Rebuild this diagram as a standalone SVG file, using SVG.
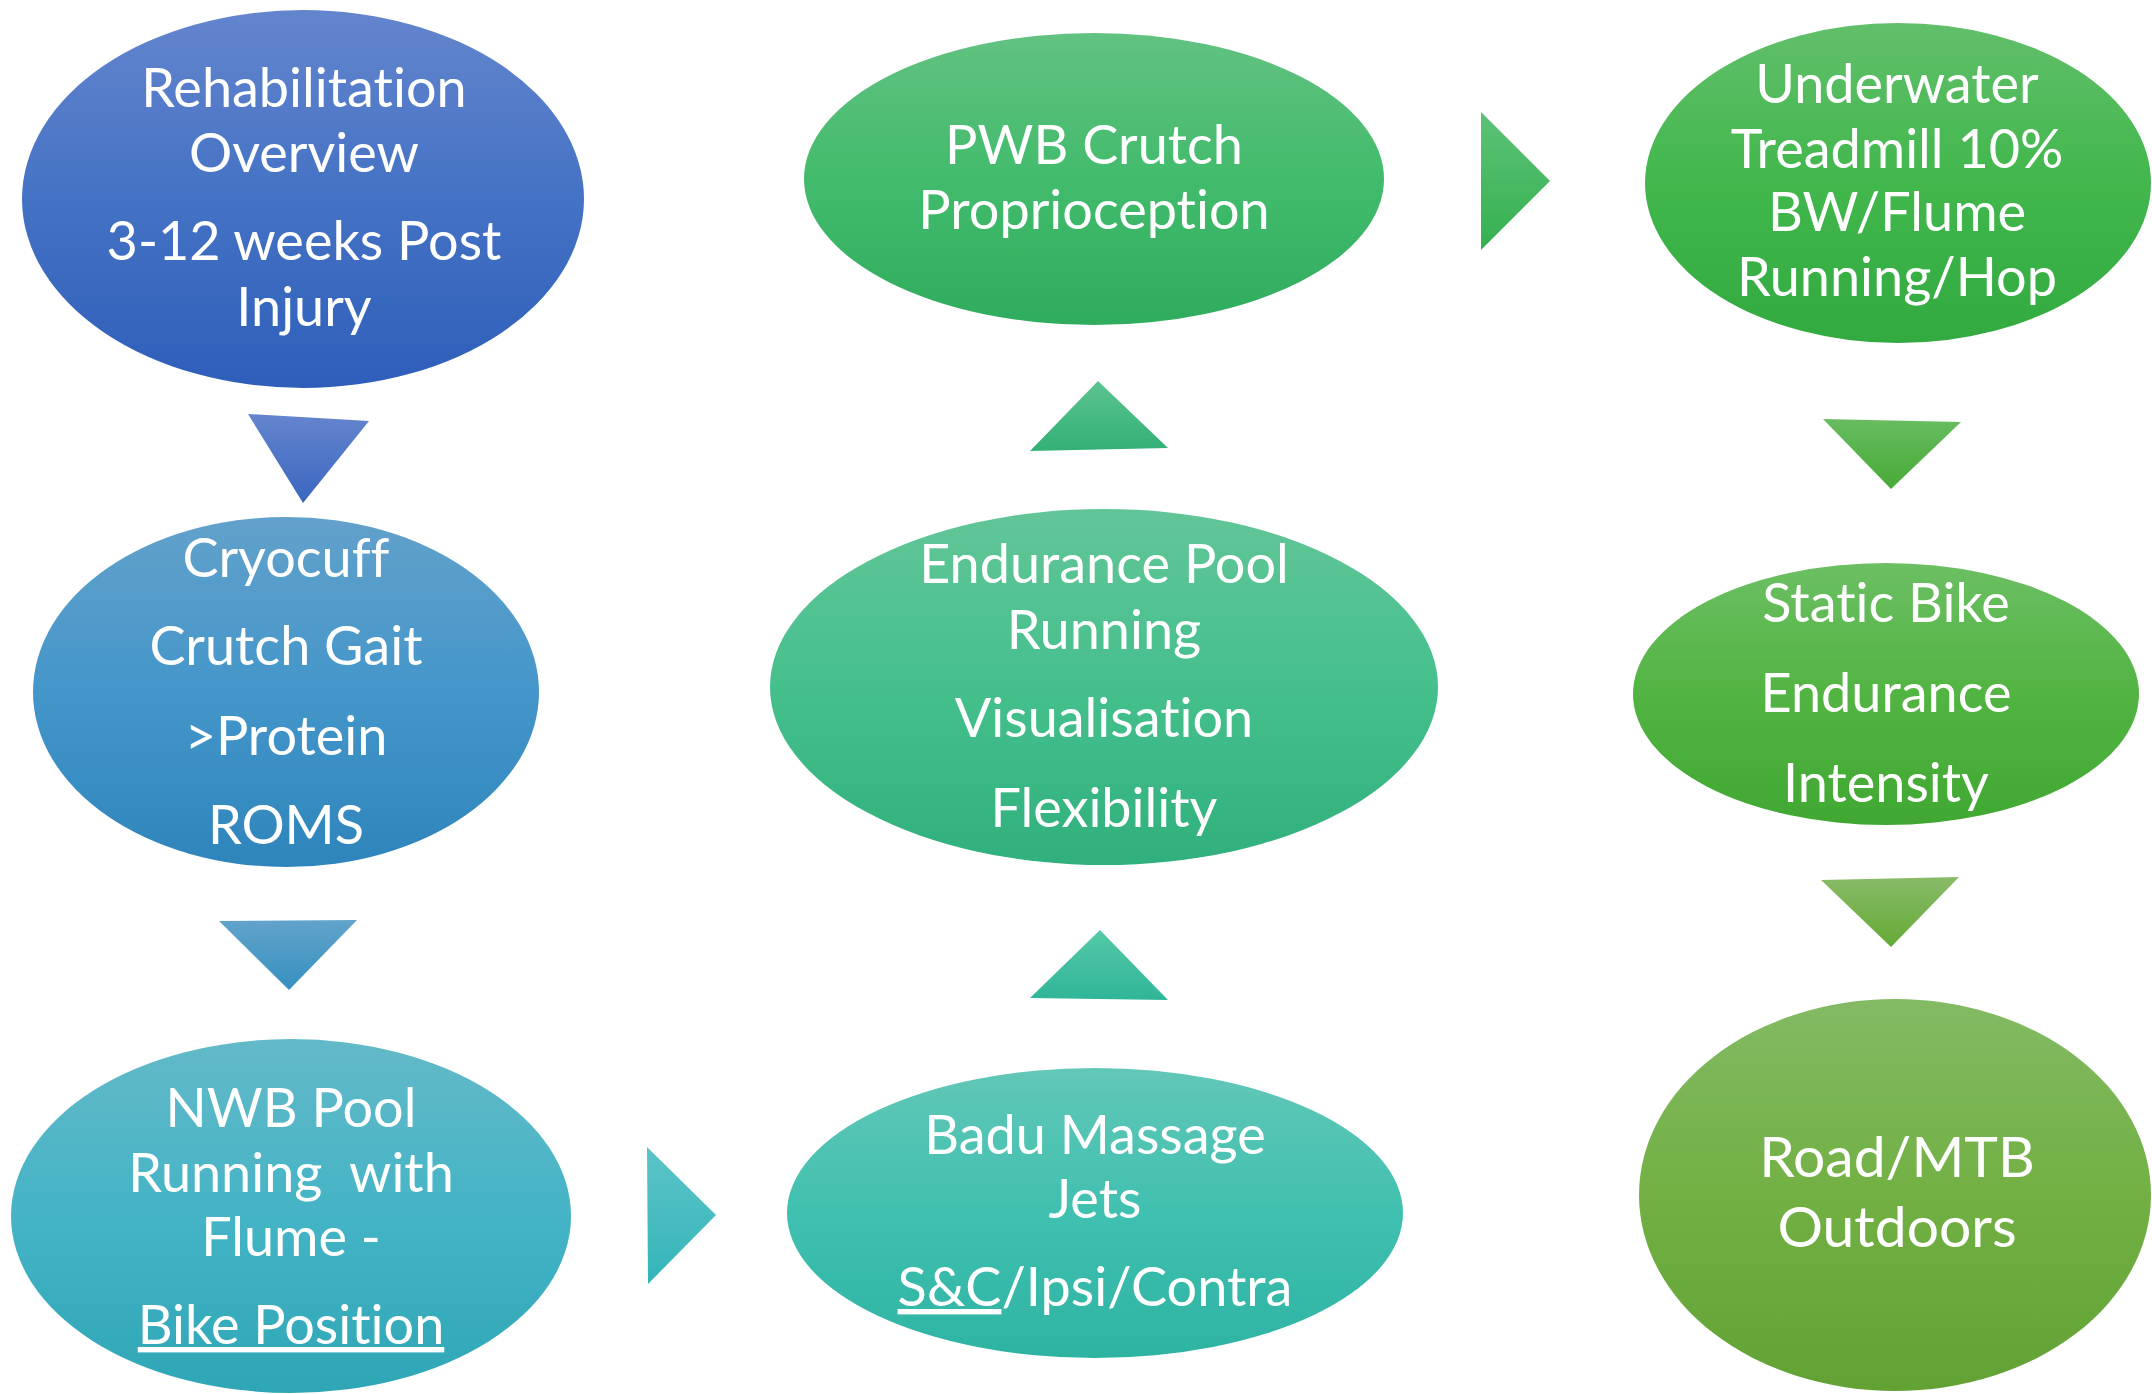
<svg xmlns="http://www.w3.org/2000/svg" width="2152" height="1394" viewBox="0 0 2152 1394">
<style>
  .t { font-family: Lato, "Liberation Sans", sans-serif; font-size: 54px; fill: #ffffff; text-anchor: middle; font-variant-ligatures: none; font-feature-settings: "liga" 0, "dlig" 0; }
  .big { font-size: 57px; }
  .u { text-decoration: underline; }
</style>
<defs>
  <linearGradient id="g1" x1="0" y1="0" x2="0" y2="1"><stop offset="0" stop-color="#6485CE"/><stop offset="0.5" stop-color="#4472C4"/><stop offset="1" stop-color="#2E5EBA"/></linearGradient>
  <linearGradient id="g2" x1="0" y1="0" x2="0" y2="1"><stop offset="0" stop-color="#62A1CB"/><stop offset="0.5" stop-color="#4496CA"/><stop offset="1" stop-color="#2E85BB"/></linearGradient>
  <linearGradient id="g3" x1="0" y1="0" x2="0" y2="1"><stop offset="0" stop-color="#63B9C8"/><stop offset="0.5" stop-color="#44B4C6"/><stop offset="1" stop-color="#2EA6B5"/></linearGradient>
  <linearGradient id="g5" x1="0" y1="0" x2="0" y2="1"><stop offset="0" stop-color="#62C7B7"/><stop offset="0.5" stop-color="#40C0B0"/><stop offset="1" stop-color="#2EB3A2"/></linearGradient>
  <linearGradient id="g6" x1="0" y1="0" x2="0" y2="1"><stop offset="0" stop-color="#62C597"/><stop offset="0.5" stop-color="#45C08D"/><stop offset="1" stop-color="#30B07C"/></linearGradient>
  <linearGradient id="g4" x1="0" y1="0" x2="0" y2="1"><stop offset="0" stop-color="#62C281"/><stop offset="0.5" stop-color="#42BB6C"/><stop offset="1" stop-color="#30AC5E"/></linearGradient>
  <linearGradient id="g7" x1="0" y1="0" x2="0" y2="1"><stop offset="0" stop-color="#62BF6B"/><stop offset="0.5" stop-color="#41B74C"/><stop offset="1" stop-color="#32AA40"/></linearGradient>
  <linearGradient id="g8" x1="0" y1="0" x2="0" y2="1"><stop offset="0" stop-color="#6CBF63"/><stop offset="0.5" stop-color="#52B442"/><stop offset="1" stop-color="#40A832"/></linearGradient>
  <linearGradient id="g9" x1="0" y1="0" x2="0" y2="1"><stop offset="0" stop-color="#83BA64"/><stop offset="0.5" stop-color="#72B043"/><stop offset="1" stop-color="#62A235"/></linearGradient>
  <linearGradient id="a1" x1="0" y1="0" x2="0" y2="1"><stop offset="0" stop-color="#6485CE"/><stop offset="1" stop-color="#3A66C0"/></linearGradient>
  <linearGradient id="a2" x1="0" y1="0" x2="0" y2="1"><stop offset="0" stop-color="#62A3CB"/><stop offset="1" stop-color="#3690C0"/></linearGradient>
  <linearGradient id="a3" x1="0" y1="0" x2="0" y2="1"><stop offset="0" stop-color="#5CC4C8"/><stop offset="1" stop-color="#34B5B9"/></linearGradient>
  <linearGradient id="a4" x1="0" y1="0" x2="0" y2="1"><stop offset="0" stop-color="#55C9A8"/><stop offset="1" stop-color="#30B598"/></linearGradient>
  <linearGradient id="a5" x1="0" y1="0" x2="0" y2="1"><stop offset="0" stop-color="#5CC490"/><stop offset="1" stop-color="#33B077"/></linearGradient>
  <linearGradient id="a6" x1="0" y1="0" x2="0" y2="1"><stop offset="0" stop-color="#5CC276"/><stop offset="1" stop-color="#35B050"/></linearGradient>
  <linearGradient id="a7" x1="0" y1="0" x2="0" y2="1"><stop offset="0" stop-color="#68BC60"/><stop offset="1" stop-color="#46AA36"/></linearGradient>
  <linearGradient id="a8" x1="0" y1="0" x2="0" y2="1"><stop offset="0" stop-color="#88BB68"/><stop offset="1" stop-color="#64AA36"/></linearGradient>
</defs>
<rect width="2152" height="1394" fill="#ffffff"/>

<g id="connectors">
  <polygon points="248,414 369,421 303,503" fill="url(#a1)"/>
  <polygon points="219,921 357,920 289,990" fill="url(#a2)"/>
  <polygon points="647,1147 716,1215 648,1284" fill="url(#a3)"/>
  <polygon points="1030,998 1100,930 1168,1000" fill="url(#a4)"/>
  <polygon points="1030,451 1098,381 1168,448" fill="url(#a5)"/>
  <polygon points="1481,112 1550,181 1481,250" fill="url(#a6)"/>
  <polygon points="1823,419 1961,422 1891,489" fill="url(#a7)"/>
  <polygon points="1821,880 1959,877 1891,947" fill="url(#a8)"/>
</g>

<g id="node-rehab">
  <ellipse cx="303" cy="199" rx="281" ry="189" fill="url(#g1)"/>
  <text class="t" x="304" y="107">Rehabilitation</text>
  <text class="t" x="304" y="172">Overview</text>
  <text class="t" x="304" y="260">3-12 weeks Post</text>
  <text class="t" x="304" y="326">Injury</text>
</g>

<g id="node-cryocuff">
  <ellipse cx="286" cy="692" rx="253" ry="175" fill="url(#g2)"/>
  <text class="t" x="286" y="577">Cryocuff</text>
  <text class="t" x="286" y="665">Crutch Gait</text>
  <text class="t" x="286" y="755">&gt;Protein</text>
  <text class="t" x="286" y="844">ROMS</text>
</g>

<g id="node-nwb">
  <ellipse cx="291" cy="1216" rx="280" ry="177" fill="url(#g3)"/>
  <text class="t" x="291" y="1127">NWB Pool</text>
  <text class="t" x="291" y="1192" xml:space="preserve" style="white-space:pre">Running  with</text>
  <text class="t" x="291" y="1256">Flume -</text>
  <text class="t" x="291" y="1344"><tspan class="u">Bike Position</tspan></text>
</g>

<g id="node-badu">
  <ellipse cx="1095" cy="1213" rx="308" ry="145" fill="url(#g5)"/>
  <text class="t" x="1095" y="1154">Badu Massage</text>
  <text class="t" x="1095" y="1218">Jets</text>
  <text class="t" x="1095" y="1306"><tspan class="u">S&amp;C</tspan>/Ipsi/Contra</text>
</g>

<g id="node-endurance">
  <ellipse cx="1104" cy="687" rx="334" ry="178" fill="url(#g6)"/>
  <text class="t" x="1104" y="583">Endurance Pool</text>
  <text class="t" x="1104" y="649">Running</text>
  <text class="t" x="1104" y="737">Visualisation</text>
  <text class="t" x="1104" y="827">Flexibility</text>
</g>

<g id="node-pwb">
  <ellipse cx="1094" cy="179" rx="290" ry="146" fill="url(#g4)"/>
  <text class="t" x="1094" y="164">PWB Crutch</text>
  <text class="t" x="1094" y="229">Proprioception</text>
</g>

<g id="node-underwater">
  <ellipse cx="1898" cy="183" rx="253" ry="160" fill="url(#g7)"/>
  <text class="t" x="1897" y="103">Underwater</text>
  <text class="t" x="1897" y="168">Treadmill 10%</text>
  <text class="t" x="1897" y="231">BW/Flume</text>
  <text class="t" x="1897" y="296">Running/Hop</text>
</g>

<g id="node-static">
  <ellipse cx="1886" cy="694" rx="253" ry="131" fill="url(#g8)"/>
  <text class="t" x="1886" y="622">Static Bike</text>
  <text class="t" x="1886" y="712">Endurance</text>
  <text class="t" x="1886" y="802">Intensity</text>
</g>

<g id="node-road">
  <ellipse cx="1895" cy="1195" rx="256" ry="196" fill="url(#g9)"/>
  <text class="t big" x="1897" y="1177">Road/MTB</text>
  <text class="t big" x="1897" y="1247">Outdoors</text>
</g>
</svg>
